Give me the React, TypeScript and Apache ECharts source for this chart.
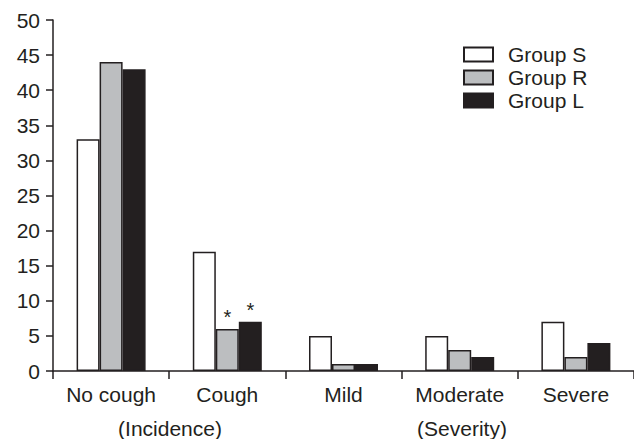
import React, { useEffect, useRef } from "react";
import * as echarts from "echarts";

const categories = ["No cough", "Cough", "Mild", "Moderate", "Severe"];
const groupS = [33, 17, 5, 5, 7];
const groupR = [44, 6, 1, 3, 2];
const groupL = [43, 7, 1, 2, 4];
const starredR = [false, true, false, false, false];
const starredL = [false, true, false, false, false];
const yTicks = { min: 0, max: 50, interval: 5 };

const INK = "#231f20";
const FONT = "'Liberation Sans', Arial, Helvetica, sans-serif";
const FS = 21;

function withStars(values: number[], stars: boolean[]) {
  return values.map((v, i) =>
    stars[i]
      ? {
          value: v,
          label: {
            show: true,
            position: "top",
            distance: 2,
            formatter: "*",
            fontSize: 20,
            color: INK,
            fontFamily: FONT,
          },
        }
      : v
  );
}

export default function App() {
  const ref = useRef<HTMLDivElement>(null);
  useEffect(() => {
    if (!ref.current) return;
    const chart = echarts.init(ref.current, undefined, { renderer: "svg" });
    const barBase = {
      type: "bar",
      barWidth: 23,
      barGap: "0%",
    };
    chart.setOption({
      animation: false,
      textStyle: { fontFamily: FONT, color: INK },
      grid: { left: 53, right: 0, top: 20, bottom: 68, containLabel: false },
      legend: {
        orient: "vertical",
        left: 463,
        top: 44,
        padding: 0,
        itemWidth: 29,
        itemHeight: 14,
        itemGap: 2,
        icon: "rect",
        textStyle: { fontSize: FS, lineHeight: 21, color: INK, fontFamily: FONT, padding: [0, 0, 0, 10] },
        data: ["Group S", "Group R", "Group L"],
      },
      xAxis: {
        type: "category",
        data: categories,
        axisLine: { lineStyle: { color: INK, width: 1.5 } },
        axisTick: { show: true, length: 8, lineStyle: { color: INK, width: 1.5 } },
        axisLabel: { fontSize: FS, color: INK, fontFamily: FONT, margin: 13, interval: 0 },
      },
      yAxis: {
        type: "value",
        min: yTicks.min,
        max: yTicks.max,
        interval: yTicks.interval,
        axisLine: { show: true, lineStyle: { color: INK, width: 1.5 } },
        axisTick: { show: true, length: 7, lineStyle: { color: INK, width: 1.5 } },
        axisLabel: { fontSize: FS, color: INK, fontFamily: FONT, margin: 13 },
        splitLine: { show: false },
      },
      graphic: [
        {
          type: "text",
          x: 170,
          y: 428,
          style: {
            text: "(Incidence)",
            fontSize: FS,
            fontFamily: FONT,
            fill: INK,
            align: "center",
            verticalAlign: "middle",
          },
        },
        {
          type: "text",
          x: 462,
          y: 428,
          style: {
            text: "(Severity)",
            fontSize: FS,
            fontFamily: FONT,
            fill: INK,
            align: "center",
            verticalAlign: "middle",
          },
        },
      ],
      series: [
        {
          ...barBase,
          name: "Group S",
          data: groupS,
          itemStyle: { color: "#ffffff", borderColor: INK, borderWidth: 1.5 },
        },
        {
          ...barBase,
          name: "Group R",
          data: withStars(groupR, starredR),
          itemStyle: { color: "#bcbec0", borderColor: INK, borderWidth: 1.5 },
        },
        {
          ...barBase,
          name: "Group L",
          data: withStars(groupL, starredL),
          itemStyle: { color: INK, borderColor: INK, borderWidth: 1.5 },
        },
      ],
    });
    return () => chart.dispose();
  }, []);
  return <div ref={ref} style={{ width: 634, height: 439, position: "absolute", left: 0, top: 0, background: "#fff" }} />;
}
